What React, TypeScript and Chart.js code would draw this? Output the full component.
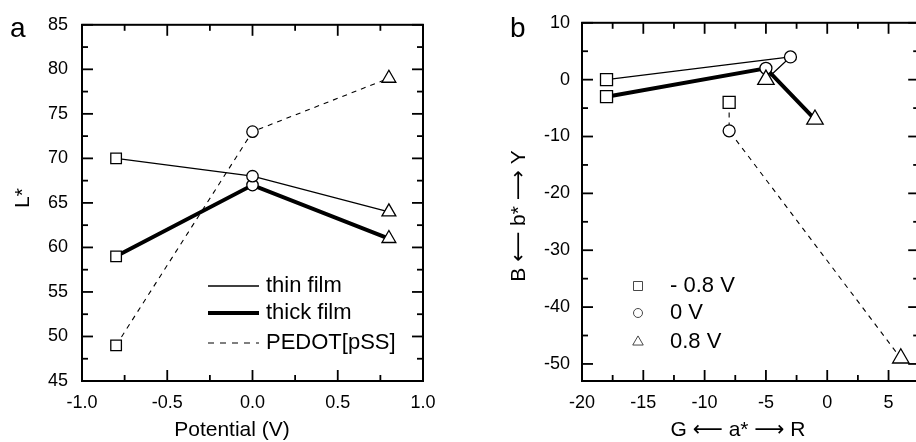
import React, { useEffect, useRef } from 'react';
import { Chart, registerables } from 'chart.js';

Chart.register(...registerables);

const FONT = '"Liberation Sans", Arial, Helvetica, sans-serif';
const ARROW_FONT = '"Liberation Sans", "DejaVu Sans", sans-serif';

// ---------- Panel a data ----------
const potentials = [-0.8, 0, 0.8];
const thinL = [70, 68, 64];
const thickL = [59, 67, 61];
const pedotL = [49, 73, 79];
const aXTicks = [-1, -0.5, 0, 0.5, 1];
const aYTicks = [45, 50, 55, 60, 65, 70, 75, 80, 85];
const seriesNames = ['thin film', 'thick film', 'PEDOT[pSS]'];

// ---------- Panel b data ----------
const thinA = [-18, -3, -5];
const thinB = [0, 4, 0];
const thickA = [-18, -5, -1];
const thickB = [-3, 2, -7];
const pedotA = [-8, -8, 6];
const pedotB = [-4, -9, -49];
const bXTicks = [-20, -15, -10, -5, 0, 5];
const bYTicks = [10, 0, -10, -20, -30, -40, -50];
const potentialLabels = ['- 0.8 V', '0 V', '0.8 V'];

const pointStyles = ['rect', 'circle', 'triangle'];

type SeriesStyle = { width: number; dash: number[] };
const styles: SeriesStyle[] = [
  { width: 1.3, dash: [] },
  { width: 4, dash: [] },
  { width: 1.1, dash: [5, 5] },
];

function minorTicks(min: number, max: number, step: number) {
  const out: number[] = [];
  for (let v = min; v <= max + 1e-9; v += step) out.push(Math.round(v * 1000) / 1000);
  return out;
}

function makeFrame(cfg: { xMajor: number[]; xMinor: number[]; yMajor: number[]; yMinor: number[] }) {
  return {
    id: 'frame',
    beforeDatasetsDraw(chart: any) {
      const { ctx, chartArea: ca, scales } = chart;
      const xs = scales.x;
      const ys = scales.y;
      ctx.save();
      ctx.strokeStyle = '#000';
      ctx.lineWidth = 1.8;
      const draw = (x1: number, y1: number, x2: number, y2: number) => {
        ctx.beginPath();
        ctx.moveTo(x1, y1);
        ctx.lineTo(x2, y2);
        ctx.stroke();
      };
      const MAJ = 11;
      const MIN = 6;
      const isMajX = (v: number) => cfg.xMajor.some((m) => Math.abs(m - v) < 1e-6);
      const isMajY = (v: number) => cfg.yMajor.some((m) => Math.abs(m - v) < 1e-6);
      cfg.xMinor.forEach((v) => {
        const px = xs.getPixelForValue(v);
        const len = isMajX(v) ? MAJ : MIN;
        draw(px, ca.bottom, px, ca.bottom - len);
        draw(px, ca.top, px, ca.top + len);
      });
      cfg.yMinor.forEach((v) => {
        const py = ys.getPixelForValue(v);
        const len = isMajY(v) ? MAJ : MIN;
        draw(ca.left, py, ca.left + len, py);
        draw(ca.right, py, ca.right - len, py);
      });
      ctx.lineWidth = 2;
      ctx.strokeRect(ca.left, ca.top, ca.right - ca.left, ca.bottom - ca.top);
      ctx.restore();
    },
  };
}

function buildDatasets(xArrs: number[][], yArrs: number[][], radii: number[]) {
  return xArrs.map((xa, i) => ({
    label: seriesNames[i],
    data: xa.map((x, j) => ({ x, y: yArrs[i][j] })),
    showLine: true,
    borderColor: '#000',
    borderWidth: styles[i].width,
    borderDash: styles[i].dash,
    tension: 0,
    pointStyle: pointStyles,
    pointRadius: radii,
    pointHoverRadius: radii,
    pointBackgroundColor: '#fff',
    pointBorderColor: '#000',
    pointBorderWidth: 1.3,
  }));
}

function axisOpts(
  min: number,
  max: number,
  ticks: number[],
  padding: number,
  fit: (s: any) => void,
  fmt: (v: number) => string
) {
  return {
    type: 'linear' as const,
    min,
    max,
    grid: { display: false, drawTicks: false },
    border: { display: false },
    ticks: {
      font: { family: FONT, size: 18 },
      color: '#000',
      padding,
      maxRotation: 0,
      autoSkip: false,
      callback: (v: any) => fmt(Number(v)),
    },
    afterBuildTicks: (s: any) => {
      s.ticks = ticks.map((v) => ({ value: v }));
    },
    afterFit: fit,
  };
}

function drawMarker(ctx: CanvasRenderingContext2D, style: string, x: number, y: number, s: number) {
  ctx.beginPath();
  if (style === 'rect') {
    ctx.rect(x - s, y - s, 2 * s, 2 * s);
  } else if (style === 'circle') {
    ctx.arc(x, y, s, 0, Math.PI * 2);
  } else {
    const r = s * 1.35;
    ctx.moveTo(x, y - r);
    ctx.lineTo(x + r * Math.sin((2 * Math.PI) / 3), y - r * Math.cos((2 * Math.PI) / 3));
    ctx.lineTo(x + r * Math.sin((4 * Math.PI) / 3), y - r * Math.cos((4 * Math.PI) / 3));
    ctx.closePath();
  }
  ctx.fillStyle = '#fff';
  ctx.fill();
  ctx.stroke();
}

const annotA = {
  id: 'annotA',
  afterDraw(chart: any) {
    const ctx: CanvasRenderingContext2D = chart.ctx;
    ctx.save();
    ctx.fillStyle = '#000';
    ctx.strokeStyle = '#000';
    ctx.font = `28px ${FONT}`;
    ctx.textAlign = 'left';
    ctx.textBaseline = 'alphabetic';
    ctx.fillText('a', 10, 37);
    ctx.font = `21px ${FONT}`;
    ctx.textAlign = 'center';
    ctx.textBaseline = 'middle';
    ctx.fillText('Potential (V)', 232, 430);
    ctx.save();
    ctx.translate(23, 198);
    ctx.rotate(-Math.PI / 2);
    ctx.fillText('L*', 0, 0);
    ctx.restore();
    const rows = [286, 313, 343];
    ctx.font = `22px ${FONT}`;
    ctx.textAlign = 'left';
    rows.forEach((y, i) => {
      ctx.save();
      ctx.lineWidth = styles[i].width;
      ctx.setLineDash(i === 2 ? [6, 6] : []);
      ctx.beginPath();
      ctx.moveTo(208, y);
      ctx.lineTo(259, y);
      ctx.stroke();
      ctx.restore();
      ctx.fillText(seriesNames[i], 266, y);
    });
    ctx.restore();
  },
};

const annotB = {
  id: 'annotB',
  afterDraw(chart: any) {
    const ctx: CanvasRenderingContext2D = chart.ctx;
    ctx.save();
    ctx.fillStyle = '#000';
    ctx.strokeStyle = '#000';
    ctx.font = `28px ${FONT}`;
    ctx.textAlign = 'left';
    ctx.textBaseline = 'alphabetic';
    ctx.fillText('b', 50, 37);
    ctx.font = `21px ${ARROW_FONT}`;
    ctx.textAlign = 'center';
    ctx.textBaseline = 'middle';
    ctx.fillText('G \u27F5 a* \u27F6 R', 278, 430);
    ctx.save();
    ctx.translate(59, 216);
    ctx.rotate(-Math.PI / 2);
    ctx.fillText('B \u27F5 b* \u27F6 Y', 0, 0);
    ctx.restore();
    const rows = [286, 313, 342];
    ctx.font = `22px ${FONT}`;
    ctx.textAlign = 'left';
    ctx.lineWidth = 0.9;
    ctx.strokeStyle = '#333';
    rows.forEach((y, i) => {
      drawMarker(ctx, pointStyles[i], 178, y, 4.5);
      ctx.fillStyle = '#000';
      ctx.fillText(potentialLabels[i], 210, y);
    });
    ctx.restore();
  },
};

function baseOptions(scales: any, padding: any) {
  return {
    responsive: false,
    animation: false as const,
    layout: { padding },
    plugins: { legend: { display: false }, tooltip: { enabled: false }, title: { display: false } },
    events: [] as any[],
    scales,
  };
}

export default function App() {
  const refA = useRef<HTMLCanvasElement>(null);
  const refB = useRef<HTMLCanvasElement>(null);

  useEffect(() => {
    const chartA = new Chart(refA.current as HTMLCanvasElement, {
      type: 'scatter',
      data: {
        datasets: buildDatasets(
          [potentials, potentials, potentials],
          [thinL, thickL, pedotL],
          [7.5, 5.7, 8]
        ) as any,
      },
      options: baseOptions(
        {
          x: axisOpts(-1, 1, aXTicks, 11, (s: any) => { s.height = 61; }, (v) => v.toFixed(1)),
          y: axisOpts(45, 85, aYTicks, 14, (s: any) => { s.width = 82; }, (v) => String(v)),
        },
        { top: 22, right: 37, bottom: 0, left: 0 }
      ) as any,
      plugins: [
        makeFrame({
          xMajor: aXTicks,
          xMinor: minorTicks(-1, 1, 0.25),
          yMajor: aYTicks,
          yMinor: minorTicks(45, 85, 2.5),
        }),
        annotA,
      ],
    });

    const chartB = new Chart(refB.current as HTMLCanvasElement, {
      type: 'scatter',
      data: {
        datasets: buildDatasets(
          [thinA, thickA, pedotA],
          [thinB, thickB, pedotB],
          [8.5, 6, 9.5]
        ) as any,
      },
      options: baseOptions(
        {
          x: axisOpts(-20, 7.5, bXTicks, 11, (s: any) => { s.height = 61; }, (v) => String(v)),
          y: axisOpts(-53, 10, bYTicks, 12, (s: any) => { s.width = 122; }, (v) => String(v)),
        },
        { top: 22, right: 7, bottom: 0, left: 0 }
      ) as any,
      plugins: [
        makeFrame({
          xMajor: bXTicks,
          xMinor: minorTicks(-20, 7.5, 2.5),
          yMajor: bYTicks,
          yMinor: minorTicks(-50, 10, 5),
        }),
        annotB,
      ],
    });

    return () => {
      chartA.destroy();
      chartB.destroy();
    };
  }, []);

  return (
    <div
      style={{
        position: 'fixed',
        left: 0,
        top: 0,
        width: 916,
        height: 442,
        overflow: 'hidden',
        background: '#fff',
      }}
    >
      <canvas
        ref={refA}
        width={460}
        height={442}
        style={{ position: 'absolute', left: 0, top: 0, width: 460, height: 442 }}
      />
      <canvas
        ref={refB}
        width={470}
        height={442}
        style={{ position: 'absolute', left: 460, top: 0, width: 470, height: 442 }}
      />
    </div>
  );
}
